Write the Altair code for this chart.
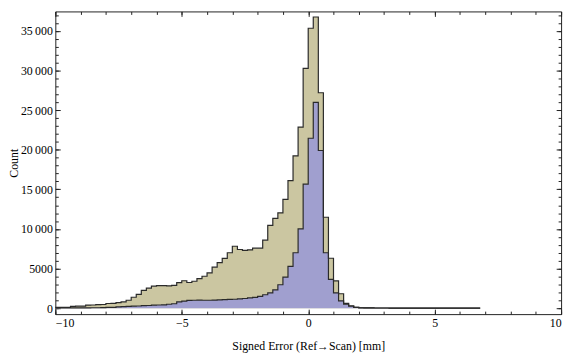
import altair as alt
import pandas as pd

# ---- data (bin width 0.2, first bin starts at -10) ----
bin_width = 0.2
x_start = -10.0

tan_counts = [
    100, 100, 110, 240, 260, 270, 390, 400, 450, 470,
    590, 620, 700, 790, 1000, 1380, 1750, 2250, 2530, 2780,
    2840, 2860, 2820, 2880, 3220, 3460, 3240, 3400, 3730, 4030,
    4450, 5180, 5760, 6280, 7000, 7820, 7410, 7290, 7370, 7570,
    7570, 8590, 10450, 11340, 12040, 13740, 16100, 19230, 22860, 30260,
    35330, 36750, 27190, 11480, 6300, 3440, 1820, 600, 310, 120,
    55, 40, 30, 28, 25, 22, 20, 18, 17, 15,
    14, 13, 12, 11, 10, 10, 9, 9, 8, 8,
    7, 7, 6, 6,
]

blue_counts = [
    30, 30, 35, 40, 40, 45, 50, 55, 60, 70,
    100, 110, 170, 190, 240, 260, 280, 320, 340, 380,
    400, 420, 500, 560, 800, 900, 980, 1000, 1010, 1000,
    1000, 1030, 1040, 1080, 1110, 1130, 1180, 1220, 1300, 1360,
    1500, 1700, 1940, 2310, 2960, 3930, 5270, 7000, 10000, 15650,
    21450, 25980, 19900, 7000, 3640, 1940, 930, 500, 250, 110,
    50, 35, 30, 28, 25, 22, 20, 18, 17, 15,
    14, 13, 12, 11, 10, 10, 9, 9, 8, 8,
    7, 7, 6, 6,
]

x_major = [-10, -5, 0, 5, 10]
x_minor = list(range(-10, 11))
y_major = [0, 5000, 10000, 15000, 20000, 25000, 30000, 35000]
y_minor = list(range(0, 38000, 1000))

x_title = "Signed Error (Ref\u2192Scan) [mm]"
y_title = "Count"

TAN = "#CBC6A1"
BLUE = "#A09FCF"
EDGE = "#2a2a2a"
FRAME = "#222222"
FONT = "Liberation Serif"

n = len(tan_counts)
edges = [round(x_start + bin_width * i, 1) for i in range(n + 1)]


def step_frame(counts):
    return pd.DataFrame({"x": edges, "count": counts + [counts[-1]], "base": [0] * (n + 1)})


tan_df = step_frame(tan_counts)
blue_df = step_frame(blue_counts)

W, H = 513, 307
xs = alt.Scale(domain=[-10, 10], nice=False, zero=False)
ys = alt.Scale(domain=[-747, 37450], nice=False, zero=False)

label_x = alt.Axis(
    orient="bottom", values=x_major, ticks=False, tickSize=0, domain=False, grid=False,
    labelExpr="datum.value < 0 ? '\u2212' + abs(datum.value) : '' + datum.value",
    title=x_title, labelPadding=4, titlePadding=12,
    labelFont=FONT, labelFontSize=12, labelColor="#000",
    titleFont=FONT, titleFontSize=12, titleFontWeight="normal", titleColor="#000",
)
label_y = alt.Axis(
    orient="left", values=y_major, ticks=False, tickSize=0, domain=False, grid=False,
    labelExpr="datum.value >= 10000 ? replace(format(datum.value, ','), ',', '\u2009') : format(datum.value, 'd')",
    title=y_title, labelPadding=3, titleX=-35, titleY=H / 2, titleAngle=270,
    titleBaseline="bottom", titleAlign="center",
    labelFont=FONT, labelFontSize=12, labelColor="#000",
    titleFont=FONT, titleFontSize=12, titleFontWeight="normal", titleColor="#000",
)


def tick_axis(orient, values, size, offset):
    return alt.Axis(
        orient=orient, values=values, tickSize=size, ticks=True, labels=False,
        domain=False, grid=False, title="", offset=offset, tickColor=FRAME, tickWidth=1,
    )


tan_area = alt.Chart(tan_df).mark_area(interpolate="step-after", color=TAN, opacity=1).encode(
    x=alt.X("x:Q", scale=xs, axis=label_x),
    y=alt.Y("count:Q", scale=ys, axis=label_y),
    y2="base:Q",
)
blue_area = alt.Chart(blue_df).mark_area(interpolate="step-after", color=BLUE, opacity=1).encode(
    x=alt.X("x:Q", scale=xs, axis=tick_axis("top", x_major, 5, -H)),
    y=alt.Y("count:Q", scale=ys, axis=tick_axis("right", y_major, 5, -W)),
    y2="base:Q",
)
tan_line = alt.Chart(tan_df).mark_line(interpolate="step-after", color=EDGE, strokeWidth=1.2).encode(
    x=alt.X("x:Q", scale=xs, axis=tick_axis("top", x_minor, 3, -H)),
    y=alt.Y("count:Q", scale=ys, axis=tick_axis("right", y_minor, 3, -W)),
)
blue_line = alt.Chart(blue_df).mark_line(interpolate="step-after", color=EDGE, strokeWidth=1.2).encode(
    x=alt.X("x:Q", scale=xs, axis=tick_axis("bottom", x_major, 5, -H)),
    y=alt.Y("count:Q", scale=ys, axis=tick_axis("left", y_major, 5, -W)),
)
ghost = alt.Chart(blue_df).mark_point(opacity=0).encode(
    x=alt.X("x:Q", scale=xs, axis=tick_axis("bottom", x_minor, 3, -H)),
    y=alt.Y("count:Q", scale=ys, axis=tick_axis("left", y_minor, 3, -W)),
)

chart = (
    alt.layer(tan_area, blue_area, tan_line, blue_line, ghost)
    .resolve_axis(x="independent", y="independent")
    .properties(
        width=W, height=H,
        autosize=alt.AutoSizeParams(type="none"),
        padding={"left": 48, "top": 1, "right": 7, "bottom": 41},
        background="white",
    )
    .configure_view(stroke=FRAME, strokeWidth=1)
)

chart.save("out.html", embed_options={"renderer": "svg", "actions": False})
